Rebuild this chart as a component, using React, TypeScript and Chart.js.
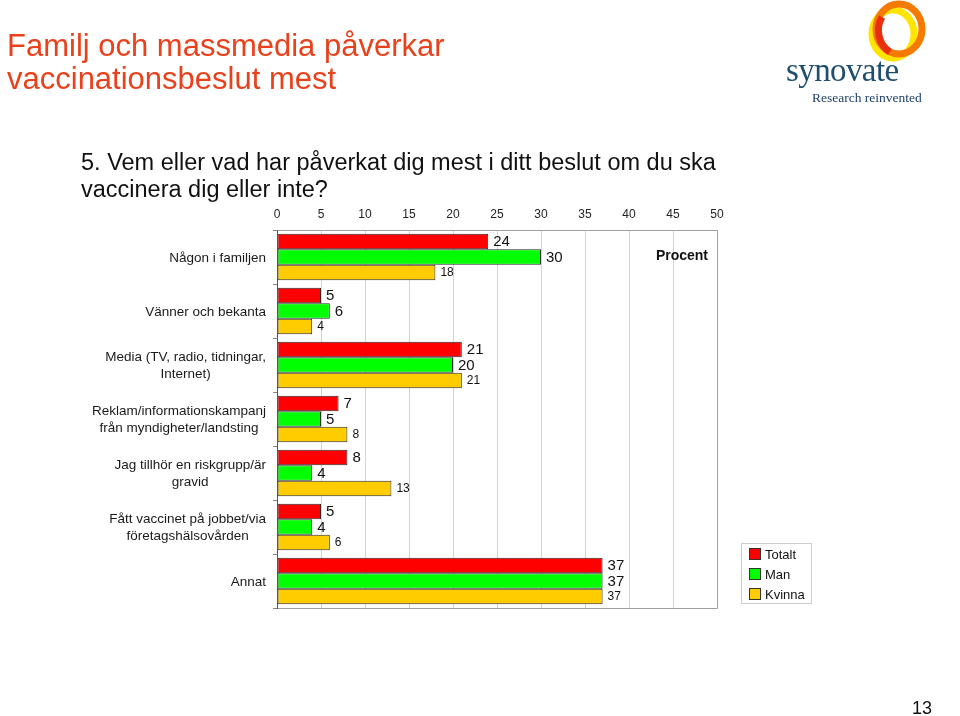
import React, { useEffect, useRef } from "react";
import { Chart, registerables } from "chart.js";
Chart.register(...registerables);

const categories: string[][] = [
  ["Någon i familjen"],
  ["Vänner och bekanta"],
  ["Media (TV, radio, tidningar,", "Internet)"],
  ["Reklam/informationskampanj", "från myndigheter/landsting"],
  ["Jag tillhör en riskgrupp/är", "gravid"],
  ["Fått vaccinet på jobbet/via", "företagshälsovården"],
  ["Annat"],
];
const seriesNames = ["Totalt", "Man", "Kvinna"];
const totalt = [24, 5, 21, 7, 8, 5, 37];
const man = [30, 6, 20, 5, 4, 4, 37];
const kvinna = [18, 4, 21, 8, 13, 6, 37];
const seriesColors = ["#FF0000", "#00FF00", "#FFCC00"];
const axisMin = 0;
const axisMax = 50;
const axisStep = 5;

const FONT = "Arial, 'Liberation Sans', Helvetica, sans-serif";

const labelPlugin = {
  id: "customLabels",
  afterDatasetsDraw(chart: any) {
    const ctx = chart.ctx;
    ctx.save();
    chart.data.datasets.forEach((ds: any, di: number) => {
      const meta = chart.getDatasetMeta(di);
      ctx.font = `${di === 2 ? 12 : 15}px ${FONT}`;
      ctx.fillStyle = "#111";
      ctx.textAlign = "left";
      ctx.textBaseline = "middle";
      meta.data.forEach((el: any, i: number) => {
        ctx.fillText(String(ds.data[i]), el.x + 5, el.y + 0.5);
      });
    });
    ctx.restore();
  },
  afterDraw(chart: any) {
    const ctx = chart.ctx;
    const area = chart.chartArea;
    const y = chart.scales.y;
    ctx.save();
    // frame
    ctx.strokeStyle = "#a0a0a0";
    ctx.lineWidth = 1;
    ctx.beginPath();
    ctx.moveTo(area.left, area.top + 0.5);
    ctx.lineTo(area.right + 0.5, area.top + 0.5);
    ctx.lineTo(area.right + 0.5, area.bottom + 0.5);
    ctx.lineTo(area.left, area.bottom + 0.5);
    ctx.stroke();
    ctx.strokeStyle = "#555";
    ctx.beginPath();
    ctx.moveTo(area.left + 0.5, area.top);
    ctx.lineTo(area.left + 0.5, area.bottom + 1);
    ctx.stroke();
    // category labels
    ctx.font = `13.5px ${FONT}`;
    ctx.fillStyle = "#1a1a1a";
    ctx.textAlign = "center";
    ctx.textBaseline = "middle";
    const lh = 17;
    categories.forEach((lines, i) => {
      const cy = y.getPixelForValue(i) + 1;
      const w = Math.max(...lines.map((l) => ctx.measureText(l).width));
      const cx = area.left - 11 - w / 2;
      const y0 = cy - ((lines.length - 1) * lh) / 2;
      lines.forEach((l, k) => ctx.fillText(l, cx, y0 + k * lh));
    });
    // Procent
    ctx.font = `bold 14px ${FONT}`;
    ctx.textAlign = "right";
    ctx.fillStyle = "#111";
    ctx.fillText("Procent", area.right - 9, area.top + 26);
    ctx.restore();
  },
};

function App() {
  const ref = useRef<HTMLCanvasElement | null>(null);
  useEffect(() => {
    if (!ref.current) return;
    const data = [totalt, man, kvinna];
    const chart = new Chart(ref.current, {
      type: "bar",
      data: {
        labels: categories.map((c) => c.join(" ")),
        datasets: seriesNames.map((n, i) => ({
          label: n,
          data: data[i],
          backgroundColor: seriesColors[i],
          borderColor: "#2a2a2a",
          borderWidth: 1,
          borderSkipped: false,
          categoryPercentage: 0.86,
          barPercentage: 1,
        })),
      },
      options: {
        indexAxis: "y",
        animation: false,
        responsive: false,
        devicePixelRatio: 1,
        layout: { padding: { top: 200, right: 243, bottom: 108, left: 0 } },
        plugins: { legend: { display: false }, tooltip: { enabled: false } },
        scales: {
          x: {
            position: "top",
            min: axisMin,
            max: axisMax,
            ticks: { stepSize: axisStep, font: { size: 12, family: FONT }, color: "#222", padding: 8 },
            grid: { color: "#d4d4d4", drawTicks: false },
            border: { display: false },
            afterFit: (s: any) => { s.height = 30; },
          },
          y: {
            type: "category",
            ticks: { display: false },
            grid: { display: true, drawOnChartArea: false, drawTicks: true, tickLength: 4, offset: true, color: "#888" },
            border: { display: false },
            afterFit: (s: any) => { s.width = 277; },
          },
        },
      } as any,
      plugins: [labelPlugin],
    });
    return () => chart.destroy();
  }, []);

  const legendItems = seriesNames.map((n, i) => (
    <div key={n} style={{ display: "flex", alignItems: "center", height: 20 }}>
      <div style={{ width: 10, height: 10, background: seriesColors[i], border: "1px solid #333", marginRight: 4 }} />
      <span>{n}</span>
    </div>
  ));

  return (
    <div style={{ position: "absolute", left: 0, top: 0, width: 960, height: 716, background: "#fff", overflow: "hidden", fontFamily: FONT }}>
      <canvas ref={ref} width={960} height={716} style={{ position: "absolute", left: 0, top: 0, width: 960, height: 716 }} />
      <div style={{ position: "absolute", left: 7, top: 29, fontSize: 31, lineHeight: "33px", color: "#E8411B" }}>
        Familj och massmedia påverkar<br />vaccinationsbeslut mest
      </div>
      <div style={{ position: "absolute", left: 81, top: 149, fontSize: 23.5, lineHeight: "27px", color: "#111" }}>
        5. Vem eller vad har påverkat dig mest i ditt beslut om du ska<br />vaccinera dig eller inte?
      </div>
      <div style={{ position: "absolute", left: 741, top: 543, width: 71, height: 61, border: "1px solid #ccc", boxSizing: "border-box", padding: "0 0 0 7px", fontSize: 13, color: "#111" }}>
        {legendItems}
      </div>
      <div style={{ position: "absolute", left: 912, top: 698, fontSize: 18, color: "#111" }}>13</div>
      <svg style={{ position: "absolute", left: 860, top: 0 }} width={80} height={64}>
        <ellipse cx={33} cy={34} rx={21} ry={24} fill="none" stroke="#FFE400" strokeWidth={7} />
        <ellipse cx={39} cy={29} rx={23} ry={25} fill="none" stroke="#F57A00" strokeWidth={7} />
        <path d="M 22 17 A 23 25 0 0 0 30 52" fill="none" stroke="#E8300F" strokeWidth={7} />
      </svg>
      <div style={{ position: "absolute", left: 786, top: 52, fontFamily: "'Liberation Serif', 'DejaVu Serif', serif", fontSize: 33, color: "#1F4E6E", letterSpacing: -0.6 }}>
        synovate
      </div>
      <div style={{ position: "absolute", left: 812, top: 90, fontFamily: "'Liberation Serif', 'DejaVu Serif', serif", fontSize: 13.5, color: "#1F3F66" }}>
        Research reinvented
      </div>
    </div>
  );
}

export default App;
